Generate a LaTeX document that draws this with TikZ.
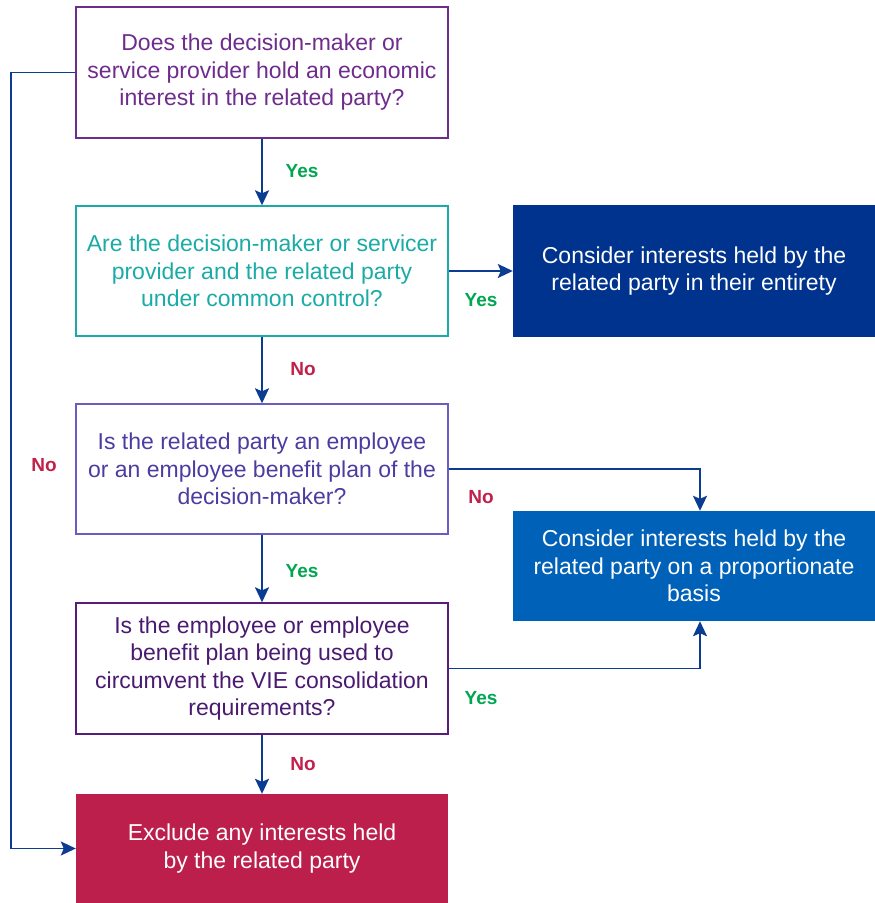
\documentclass[tikz,border=0pt]{standalone}
\usepackage{fontspec}
\setmainfont{Liberation Sans}
\usetikzlibrary{arrows.meta}
\definecolor{cPurple}{HTML}{6E2C8C}
\definecolor{cTeal}{HTML}{1AABA6}
\definecolor{cIndigo}{HTML}{6A5CC0}
\definecolor{cIndigoT}{HTML}{4B3DA0}
\definecolor{cDPurple}{HTML}{561D7A}
\definecolor{cDPurpleT}{HTML}{4A1A70}
\definecolor{cCrimson}{HTML}{BC1F4B}
\definecolor{cNavy}{HTML}{00338D}
\definecolor{cBlue}{HTML}{0061B8}
\definecolor{cLine}{HTML}{0A3D91}
\definecolor{cYes}{HTML}{00A651}
\definecolor{cNo}{HTML}{C0204A}
\tikzset{
  qbox/.style={draw, line width=1.4pt, minimum width=372pt, align=center,
    font=\fontsize{23}{27.5}\selectfont, inner sep=0pt},
  rbox/.style={fill, draw=none, minimum width=362pt, align=center, text=white,
    font=\fontsize{23}{27.5}\selectfont, inner sep=0pt},
  conn/.style={draw=cLine, line width=1.9pt, -{Stealth[length=15pt,width=14pt,inset=3pt]}},
  yeslbl/.style={text=cYes, font=\fontsize{19}{22}\selectfont\bfseries},
  nolbl/.style={text=cNo, font=\fontsize{19}{22}\selectfont\bfseries},
}
\begin{document}
\begin{tikzpicture}[x=1pt,y=-1pt]
\useasboundingbox (0,0) rectangle (875,903);
\node[qbox, draw=cPurple, text=cPurple, minimum height=131pt] (b1) at (262,72.5)
  {Does the decision-maker or\\service provider hold an economic\\interest in the related party?};
\node[qbox, draw=cTeal, text=cTeal, minimum height=130pt] (b2) at (262,271)
  {Are the decision-maker or servicer\\provider and the related party\\under common control?};
\node[qbox, draw=cIndigo, text=cIndigoT, minimum height=130pt] (b3) at (262,469)
  {Is the related party an employee\\or an employee benefit plan of the\\decision-maker?};
\node[qbox, draw=cDPurple, text=cDPurpleT, minimum height=131pt] (b4) at (262,668.5)
  {Is the employee or employee\\benefit plan being used to\\circumvent the VIE consolidation\\requirements?};
\node[rbox, fill=cCrimson, minimum width=372pt, minimum height=109pt] (b5) at (262,848.5)
  {Exclude any interests held\\by the related party};
\node[rbox, fill=cNavy, minimum height=132pt] (ra) at (694,271)
  {Consider interests held by the\\related party in their entirety};
\node[rbox, fill=cBlue, minimum height=110pt] (rb) at (694,566)
  {Consider interests held by the\\related party on a proportionate\\basis};
\coordinate (leftrail) at (11,0);
\draw[conn] (b1.south) -- (b2.north);
\draw[conn] (b2.south) -- (b3.north);
\draw[conn] (b3.south) -- (b4.north);
\draw[conn] (b4.south) -- (b5.north);
\draw[conn] (b2.east) -- (ra.west);
\draw[conn] (b3.east) -| ([xshift=6pt]rb.north);
\draw[conn] (b4.east) -| ([xshift=6pt]rb.south);
\draw[conn] (b1.west) -- (b1.west -| leftrail) -- (b5.west -| leftrail) -- (b5.west);
\node[yeslbl] (l1) at (302,171) {Yes};
\node[nolbl] (l2) at (303,369) {No};
\node[yeslbl] (l3) at (302,571) {Yes};
\node[nolbl] (l4) at (303,764) {No};
\node[yeslbl] (l5) at (481,300) {Yes};
\node[nolbl] (l6) at (481,497) {No};
\node[yeslbl] (l7) at (481,698) {Yes};
\node[nolbl] (l8) at (44,465) {No};
\end{tikzpicture}
\end{document}
